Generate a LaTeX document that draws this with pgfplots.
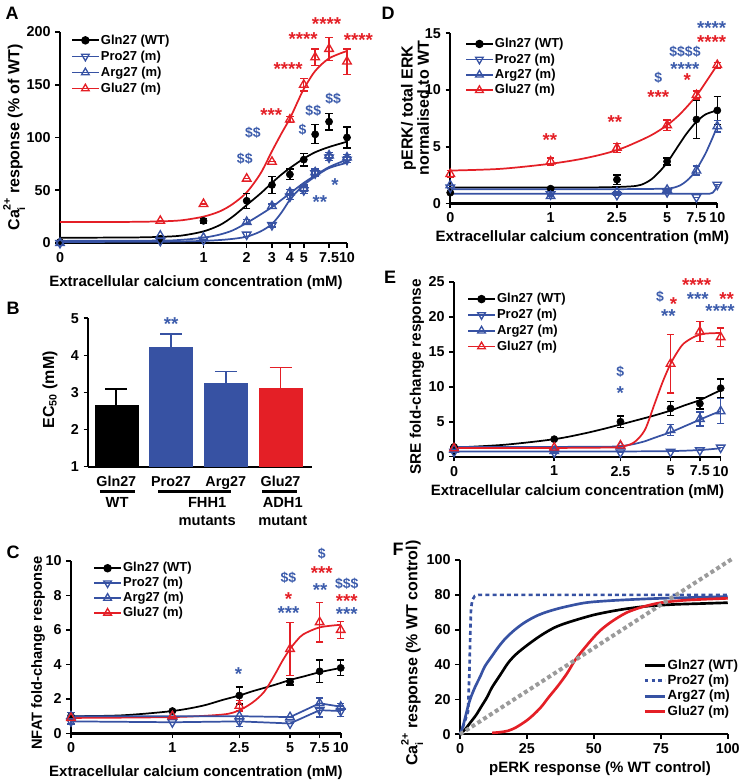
\documentclass[border=0pt]{standalone}
\usepackage{fontspec}
\setmainfont{Liberation Sans}
\usepackage{pgfplots}
\pgfplotsset{compat=1.18}
\definecolor{cblue}{RGB}{55,82,163}
\definecolor{cred}{RGB}{228,31,38}
\definecolor{cgray}{RGB}{155,155,155}
\definecolor{tblue}{RGB}{60,92,172}
\newcommand{\fs}[1]{\fontsize{#1}{#1}\selectfont}
\newcommand{\st}[4]{\node[text=#1, font=\fs{14}\bfseries, inner sep=0pt, yshift=-3.1pt] at (axis cs:#2,#3) {#4};}
\newcommand{\dl}[4]{\node[text=#1, font=\fs{10.5}\bfseries, inner sep=0pt] at (axis cs:#2,#3) {#4};}
\pgfplotsset{
  panel/.style={
    scale only axis, axis lines=left, axis line style={-, line width=1.7pt},
    enlargelimits=false, clip=false,
    tick style={line width=1.2pt, black}, major tick length=3.5pt, tick align=outside,
    /pgf/number format/assume math mode=true,
    tick label style={font=\fs{10.75}\bfseries},
    xlabel style={font=\fs{11.25}\bfseries, anchor=center},
    ylabel style={font=\fs{12}\bfseries, anchor=center},
    legend style={draw=none, fill=none, font=\fs{9.75}\bfseries, inner sep=0pt, cells={anchor=west}, nodes={inner sep=1pt}},
    legend cell align=left,
    legend image code/.code={\draw[mark repeat=2,mark phase=2,##1] plot coordinates {(0pt,0pt) (10pt,0pt) (20pt,0pt)};},
    xminorticks=false, yminorticks=false,
  },
  ebar/.style={error bars/y dir=both, error bars/y explicit,
    error bars/error bar style={line width=1pt, #1},
    error bars/error mark options={rotate=90, mark size=2.8pt, line width=1pt, #1}},
  wt/.style={black, only marks, mark=*, mark size=2.7pt, ebar=black},
  pro/.style={cblue, only marks, mark=triangle, mark size=3.7pt, mark options={rotate=180, fill=white, line width=1pt}, ebar=cblue},
  arg/.style={cblue, only marks, mark=triangle, mark size=3.7pt, mark options={fill=white, line width=1pt}, ebar=cblue},
  glu/.style={cred, only marks, mark=triangle, mark size=3.7pt, mark options={fill=white, line width=1pt}, ebar=cred},
  fitl/.style={#1, line width=1.3pt, smooth},
}
\newcommand{\fourleg}{%
  \addlegendimage{black, line width=1.3pt, mark=*, mark size=2.5pt}
  \addlegendimage{cblue, line width=1.3pt, mark=triangle, mark size=3.3pt, mark options={rotate=180, fill=white, line width=1pt}}
  \addlegendimage{cblue, line width=1.3pt, mark=triangle, mark size=3.3pt, mark options={fill=white, line width=1pt}}
  \addlegendimage{cred, line width=1.3pt, mark=triangle, mark size=3.3pt, mark options={fill=white, line width=1pt}}
  \legend{Gln27 (WT), Pro27 (m), Arg27 (m), Glu27 (m)}}
\begin{document}
\begin{tikzpicture}[font=\bfseries]
\useasboundingbox (0,0) rectangle (562.5pt,588pt);
% panel letters
\node[font=\fs{13.5}\bfseries] at (9pt,578.25pt) {A};
\node[font=\fs{13.5}\bfseries] at (9.75pt,357pt) {B};
\node[font=\fs{13.5}\bfseries] at (9.75pt,174pt) {C};
\node[font=\fs{13.5}\bfseries] at (291pt,578.25pt) {D};
\node[font=\fs{13.5}\bfseries] at (292.5pt,380.25pt) {E};
\node[font=\fs{13.5}\bfseries] at (298.5pt,176.25pt) {F};

% ---------------- A
\begin{axis}[panel, at={(45pt,405.75pt)}, anchor=south west, width=215.25pt, height=158.25pt,
  xmode=log, xmin=0.1, xmax=10, xtick={0.1,1,2,3,4,5,7.5,10}, xticklabels={0,1,2,3,4,5,7.5,10},
  ymin=0, ymax=200, ytick={0,50,100,150,200},
  xlabel={Extracellular calcium concentration (mM)},
  ylabel={Ca\rlap{\raisebox{0.55em}{\fs{8}2+}}\raisebox{-0.35em}{\fs{8}i}\hspace{0.55em} response (\% of WT)},
  xlabel style={at={(axis description cs:0.474,-0.19)}},
  ylabel style={at={(axis description cs:-0.16,0.5)}},
  legend style={at={(axis description cs:0.038,0.995)}, anchor=north west, row sep=1.5pt}]
\fourleg
\addplot[fitl=black] coordinates {(0.1,5)(0.3,5.2)(0.5,5.8)(0.7,7)(1,11)(1.3,17)(1.6,25)(2,36)(2.5,47)(3,57)(3.5,65)(4,71)(5,80)(6,86)(7.5,91)(10,96)};
\addplot[fitl=cred] coordinates {(0.1,20)(0.3,20)(0.5,20.5)(0.7,21.5)(1,25)(1.3,30)(1.6,37)(2,48)(2.5,66)(3,87)(3.5,104)(4,118)(4.5,133)(5,146)(6,163)(7.5,175)(10,182)};
\addplot[fitl=cblue] coordinates {(0.1,2)(0.5,2.3)(0.7,3)(1,5)(1.3,8)(1.6,12)(2,19)(2.5,27)(3,34)(3.5,41)(4,47)(5,57)(6,64)(7.5,72)(10,79)};
\addplot[fitl=cblue] coordinates {(0.1,1)(0.5,1.2)(1,2)(1.5,3.5)(2,6)(2.5,11)(3,18)(3.5,29)(4,41)(4.5,49)(5,55)(6,63)(7.5,71)(10,76)};
\addplot[wt] table[x=x,y=y,y error=e] {
x y e
0.1 1 0
0.5 4 0
1 21 2
2 40 7
3 55 8
4 65 5
5 79 6
6 103 9
7.5 115 8
10 100 10
};
\addplot[pro] table[x=x,y=y,y error=e] {
x y e
0.1 0 0
0.5 2 0
1 3 0
2 8 2
3 17 2
4 44 3
5 50 3
6 66 3
7.5 81 3
10 79 3
};
\addplot[arg] table[x=x,y=y,y error=e] {
x y e
0.1 0 0
0.5 7 0
1 5 0
2 20 2
3 35 2
4 48 3
5 52 3
6 67 3
7.5 83 3
10 81 3
};
\addplot[glu] table[x=x,y=y,y error=e] {
x y e
0.5 21 0
1 37 0
2 61 0
3 77 0
4 117 3
5 150 6
6 176 8
7.5 184 11
10 172 12
};
\st{cred}{7.2}{211.7}{****}
\st{cred}{4.95}{197.5}{****}
\st{cred}{12.0}{195.9}{****}
\st{cred}{3.89}{169}{****}
\st{cred}{2.97}{124.8}{***}
\dl{tblue}{2.21}{104.3}{\$\$}
\dl{tblue}{1.94}{79.6}{\$\$}
\dl{tblue}{4.9}{107.4}{\$}
\dl{tblue}{5.82}{125.4}{\$\$}
\dl{tblue}{8.02}{136.8}{\$\$}
\st{tblue}{8.24}{58.5}{*}
\st{tblue}{6.47}{42.7}{**}
\end{axis}

% ---------------- B
\begin{axis}[panel, at={(66.2pt,238pt)}, anchor=south west, width=167.6pt, height=111.3pt,
  ybar, bar width=32.25pt,
  xmin=-0.512, xmax=3.57, ymin=1, ymax=5, ytick={1,2,3,4,5},
  xtick={0,1,2,3}, xticklabels={Gln27,Pro27,Arg27,Glu27}, xtick style={draw=none},
  ylabel={EC\textsubscript{50} (mM)},
  ylabel style={at={(axis description cs:-0.171,0.517)}}]
\addplot[fill=black, draw=black, bar shift=0pt, error bars/y dir=plus, error bars/y explicit,
  error bars/error bar style={line width=1.2pt, black}, error bars/error mark options={rotate=90, mark size=8.25pt, line width=1.2pt, black}]
  coordinates {(0,2.66) +- (0,0.43)};
\addplot[fill=cblue, draw=cblue, bar shift=0pt, error bars/y dir=plus, error bars/y explicit,
  error bars/error bar style={line width=1.2pt, cblue}, error bars/error mark options={rotate=90, mark size=8.25pt, line width=1.2pt, cblue}]
  coordinates {(1,4.21) +- (0,0.36)};
\addplot[fill=cblue, draw=cblue, bar shift=0pt, error bars/y dir=plus, error bars/y explicit,
  error bars/error bar style={line width=1.2pt, cblue}, error bars/error mark options={rotate=90, mark size=8.25pt, line width=1.2pt, cblue}]
  coordinates {(2,3.24) +- (0,0.32)};
\addplot[fill=cred, draw=cred, bar shift=0pt, error bars/y dir=plus, error bars/y explicit,
  error bars/error bar style={line width=1.2pt, cred}, error bars/error mark options={rotate=90, mark size=8.25pt, line width=1.2pt, cred}]
  coordinates {(3,3.10) +- (0,0.57)};
\st{tblue}{1}{4.95}{**}
\draw[line width=2.2pt] (axis cs:-0.298,0.326) -- (axis cs:0.342,0.326);
\draw[line width=2.2pt] (axis cs:0.764,0.326) -- (axis cs:2.098,0.326);
\draw[line width=2.2pt] (axis cs:2.664,0.326) -- (axis cs:3.303,0.326);
\node[font=\fs{11}\bfseries] at (axis cs:0.015,0.022) {WT};
\node[font=\fs{11}\bfseries] at (axis cs:1.66,0.022) {FHH1};
\node[font=\fs{11}\bfseries] at (axis cs:1.66,-0.464) {mutants};
\node[font=\fs{11}\bfseries] at (axis cs:3.04,0.022) {ADH1};
\node[font=\fs{11}\bfseries] at (axis cs:3.04,-0.464) {mutant};
\end{axis}

% ---------------- C
\begin{axis}[panel, at={(53.25pt,37.9pt)}, anchor=south west, width=202.3pt, height=129.4pt,
  xmode=log, xmin=0.25, xmax=10, xtick={0.25,1,2.5,5,7.5,10}, xticklabels={0,1,2.5,5,7.5,10},
  xlabel={Extracellular calcium concentration (mM)},
  ymin=0, ymax=10, ytick={0,2,4,6,8,10},
  ylabel={NFAT fold-change response},
  xlabel style={at={(axis description cs:0.463,-0.229)}},
  ylabel style={at={(axis description cs:-0.122,0.467)}, font=\fs{11}\bfseries},
  legend style={at={(axis description cs:0.082,1.0)}, anchor=north west, row sep=0.6pt}]
\fourleg
\addplot[fitl=black] coordinates {(0.25,1.0)(0.5,1.05)(1,1.3)(1.5,1.6)(2,1.95)(2.5,2.2)(3,2.45)(4,2.8)(5,3.1)(6,3.3)(7.5,3.55)(10,3.8)};
\addplot[fitl=cred] coordinates {(0.25,0.9)(1,0.95)(2,1.1)(2.5,1.35)(3,1.8)(3.5,2.4)(4,3.3)(4.5,4.2)(5,4.9)(5.5,5.4)(6,5.75)(7.5,6.15)(10,6.3)};
\addplot[wt] table[x=x,y=y,y error=e] {
x y e
0.25 1.0 0.2
1 1.3 0
2.5 2.2 0.5
5 3.0 0.2
7.5 3.6 0.65
10 3.8 0.45
};
\addplot[arg, sharp plot, line width=1.3pt] table[x=x,y=y,y error=e] {
x y e
0.25 1.0 0.2
1 1.0 0
2.5 1.0 0
5 0.95 0
7.5 1.75 0.3
10 1.55 0.2
};
\addplot[pro, sharp plot, line width=1.3pt] table[x=x,y=y,y error=e] {
x y e
0.25 0.7 0.15
1 0.65 0
2.5 0.7 0.3
5 0.58 0
7.5 1.35 0.4
10 1.3 0.3
};
\addplot[glu] table[x=x,y=y,y error=e] {
x y e
0.25 0.9 0
1 1.0 0
2.5 1.6 0.3
5 4.9 1.55
7.5 6.45 1.15
10 6.0 0.5
};
\st{tblue}{2.47}{3.70}{*}
\dl{tblue}{4.89}{9.0}{\$\$}
\st{cred}{4.89}{8.03}{*}
\st{tblue}{4.89}{7.23}{***}
\dl{tblue}{7.71}{10.44}{\$}
\st{cred}{7.71}{9.52}{***}
\st{tblue}{7.54}{8.55}{**}
\dl{tblue}{10.86}{8.67}{\$\$\$}
\st{cred}{10.86}{7.9}{***}
\st{tblue}{10.86}{7.17}{***}
\end{axis}

% ---------------- D
\begin{axis}[panel, at={(337.7pt,435.4pt)}, anchor=south west, width=200.25pt, height=127.65pt,
  xmode=log, xmin=0.25, xmax=10, xtick={0.25,1,2.5,5,7.5,10}, xticklabels={0,1,2.5,5,7.5,10},
  xlabel={Extracellular calcium concentration (mM)},
  ymin=0, ymax=15, ytick={0,5,10,15},
  ylabel={pERK/ total ERK\\normalised to WT},
  xlabel style={at={(axis description cs:0.495,-0.203)}},
  ylabel style={at={(axis description cs:-0.132,0.561)}, align=center, font=\fontsize{12}{11}\selectfont\bfseries},
  legend style={at={(axis description cs:0.055,0.98)}, anchor=north west, row sep=1pt}]
\fourleg
\addplot[fitl=cred] coordinates {(0.25,2.9)(0.5,3.05)(1,3.5)(1.5,3.9)(2,4.3)(2.5,4.7)(3,5.15)(4,6.0)(5,6.9)(6,7.9)(7.5,9.5)(9,11.2)(10,12.2)};
\addplot[fitl=black] coordinates {(0.25,1.4)(1,1.4)(2,1.42)(3,1.5)(3.5,1.65)(4,2.1)(4.5,2.8)(5,3.6)(5.5,4.5)(6,5.35)(6.5,6.1)(7,6.7)(7.5,7.2)(8.5,7.85)(10,8.2)};
\addplot[fitl=cblue] coordinates {(0.25,1.25)(1,1.25)(2.5,1.26)(4,1.28)(5,1.32)(5.5,1.4)(6,1.6)(6.5,1.95)(7,2.4)(7.5,3.0)(8,3.7)(8.5,4.4)(9,5.2)(9.5,6.0)(10,6.8)};
\addplot[cblue, line width=1.3pt] coordinates {(0.25,0.85)(5,0.85)(9,0.86)(9.4,0.95)(9.7,1.2)(10,1.6)};
\addplot[wt] table[x=x,y=y,y error=e] {
x y e
0.25 0.95 0
1 1.3 0
2.5 2.1 0.4
5 3.7 0.3
7.5 7.4 1.7
10 8.2 1.25
};
\addplot[pro] table[x=x,y=y,y error=e] {
x y e
0.25 1.4 0
1 0.8 0
2.5 0.75 0
5 1.0 0
7.5 0.55 0
10 1.65 0
};
\addplot[arg] table[x=x,y=y,y error=e] {
x y e
0.25 1.6 0
1 0.65 0
2.5 1.0 0
5 1.2 0
7.5 2.9 0.4
10 6.8 0.5
};
\addplot[glu] table[x=x,y=y,y error=e] {
x y e
0.25 2.6 0.3
1 3.7 0.3
2.5 4.9 0.4
5 6.9 0.45
7.5 9.55 0.35
10 12.2 0.25
};
\st{tblue}{9.25}{15.82}{****}
\st{cred}{9.25}{14.56}{****}
\dl{tblue}{6.4}{13.39}{\$\$\$\$}
\st{tblue}{6.4}{12.22}{****}
\dl{tblue}{4.43}{11.05}{\$}
\st{cred}{6.6}{11.25}{*}
\st{cred}{4.43}{9.73}{***}
\st{cred}{2.43}{7.53}{**}
\st{cred}{0.99}{5.92}{**}
\end{axis}

% ---------------- E
\begin{axis}[panel, at={(340.5pt,245.5pt)}, anchor=south west, width=200pt, height=131pt,
  xmode=log, xmin=0.25, xmax=10, xtick={0.25,1,2.5,5,7.5,10}, xticklabels={0,1,2.5,5,7.5,10},
  xlabel={Extracellular calcium concentration (mM)},
  ymin=0, ymax=25, ytick={0,5,10,15,20,25},
  ylabel={SRE fold-change response},
  xlabel style={at={(axis description cs:0.463,-0.2)}},
  ylabel style={at={(axis description cs:-0.139,0.457)}, font=\fs{11.5}\bfseries},
  legend style={at={(axis description cs:0.049,0.944)}, anchor=north west, row sep=1.3pt}]
\fourleg
\addplot[fitl=black] coordinates {(0.25,1.3)(0.5,1.7)(1,2.5)(1.5,3.3)(2,4.0)(2.5,4.6)(3,5.1)(4,5.9)(5,6.6)(6,7.3)(7.5,8.1)(9,9.0)(10,9.5)};
\addplot[fitl=cblue] coordinates {(0.25,1.4)(1,1.4)(2,1.42)(2.5,1.5)(3,1.8)(3.5,2.2)(4,2.7)(5,3.5)(6,4.3)(7.5,5.3)(9,6.1)(10,6.5)};
\addplot[fitl=cblue] coordinates {(0.25,0.75)(2.5,0.75)(5,0.8)(7.5,0.95)(10,1.2)};
\addplot[fitl=cred] coordinates {(0.25,1.25)(1,1.25)(2,1.3)(2.5,1.4)(3,2.0)(3.5,3.8)(4,7.5)(4.5,10.8)(5,13.3)(5.5,15.0)(6,16.2)(7,17.2)(8,17.6)(10,17.7)};
\addplot[wt] table[x=x,y=y,y error=e] {
x y e
0.25 1.4 0
1 2.5 0
2.5 5.0 0.8
5 6.9 1.0
7.5 7.6 0.8
10 9.8 1.3
};
\addplot[pro] table[x=x,y=y,y error=e] {
x y e
0.25 0.7 0
1 0.6 0
2.5 0.6 0
5 0.7 0
7.5 0.9 0
10 1.3 0
};
\addplot[arg] table[x=x,y=y,y error=e] {
x y e
0.25 1.0 0
1 0.8 0
2.5 1.5 0
5 3.8 0.8
7.5 5.4 1.0
10 6.5 1.8
};
\addplot[glu] table[x=x,y=y,y error=e] {
x y e
0.25 1.2 0
1 1.3 0
2.5 1.6 0
5 13.3 4.2
7.5 17.9 1.4
10 17.1 1.3
};
\st{cred}{7.18}{25.1}{****}
\dl{tblue}{4.32}{22.86}{\$}
\st{cred}{5.2}{22.5}{*}
\st{tblue}{7.28}{23.1}{***}
\st{cred}{10.86}{23.2}{**}
\st{tblue}{9.91}{21.4}{****}
\st{tblue}{4.85}{20.7}{**}
\dl{tblue}{2.49}{12.14}{\$}
\st{tblue}{2.49}{9.76}{*}
\end{axis}

% ---------------- F
\begin{axis}[panel, at={(345pt,37.3pt)}, anchor=south west, width=200.8pt, height=130.7pt,
  xmin=0, xmax=100, xtick={0,25,50,75,100}, ymin=0, ymax=100, ytick={0,20,40,60,80,100},
  xlabel={pERK response (\% WT control)},
  ylabel={Ca\rlap{\raisebox{0.55em}{\fs{8}2+}}\raisebox{-0.35em}{\fs{8}i}\hspace{0.55em} response (\% WT control)},
  xlabel style={at={(axis description cs:0.523,-0.199)}},
  ylabel style={at={(axis description cs:-0.179,0.466)}},
  legend image code/.code={\draw[#1] (0pt,0pt) -- (15pt,0pt);},
  legend style={at={(axis description cs:0.684,0.438)}, anchor=north west, row sep=0.8pt, font=\fs{10}\bfseries}]
\addlegendimage{black, line width=2.2pt}
\addlegendimage{cblue, line width=2.2pt, dash pattern=on 2.6pt off 2.4pt}
\addlegendimage{cblue, line width=2.2pt}
\addlegendimage{cred, line width=2.2pt}
\legend{Gln27 (WT), Pro27 (m), Arg27 (m), Glu27 (m)}
\addplot[black, line width=2pt, smooth] coordinates {(0,0)(2,3)(4,7)(6,11)(8,16)(10,21)(12,27)(15,34)(18,41)(21,46)(25,51)(30,56.5)(35,61)(40,64)(50,68.5)(60,71.5)(70,73.5)(80,74.5)(90,75)(100,75.5)};
\addplot[cblue, line width=2pt, smooth] coordinates {(0,0)(1,4)(2,10)(3,16)(4,21)(5.6,27)(7.5,33)(9.3,39)(12,45)(14.3,50)(17,55)(20.5,60)(24,64)(28,67.5)(32,70)(37.6,72.5)(45,75)(50,76)(60,77)(75,78)(100,79)};
\addplot[cred, line width=2pt, smooth] coordinates {(12,0.8)(15,1.2)(18,2)(21,4)(25,8)(28,12)(30.5,16)(33,21)(36.7,28)(40,35)(43,42.6)(46,48.5)(49,54)(52,59)(55.4,63.3)(59,67)(62.5,70)(68,73)(75,75.5)(85,77)(100,78)};
\addplot[cblue, line width=2pt, dash pattern=on 3pt off 2.4pt] coordinates {(0,0)(1.5,6)(3,13)(3.5,35)(3.8,55)(4.1,72)(4.6,77)(5.5,79.3)(7,80)(100,80)};
\addplot[cgray, line width=3pt, dash pattern=on 3pt off 2.2pt] coordinates {(0,0)(102,101)};
\end{axis}
\end{tikzpicture}
\end{document}
